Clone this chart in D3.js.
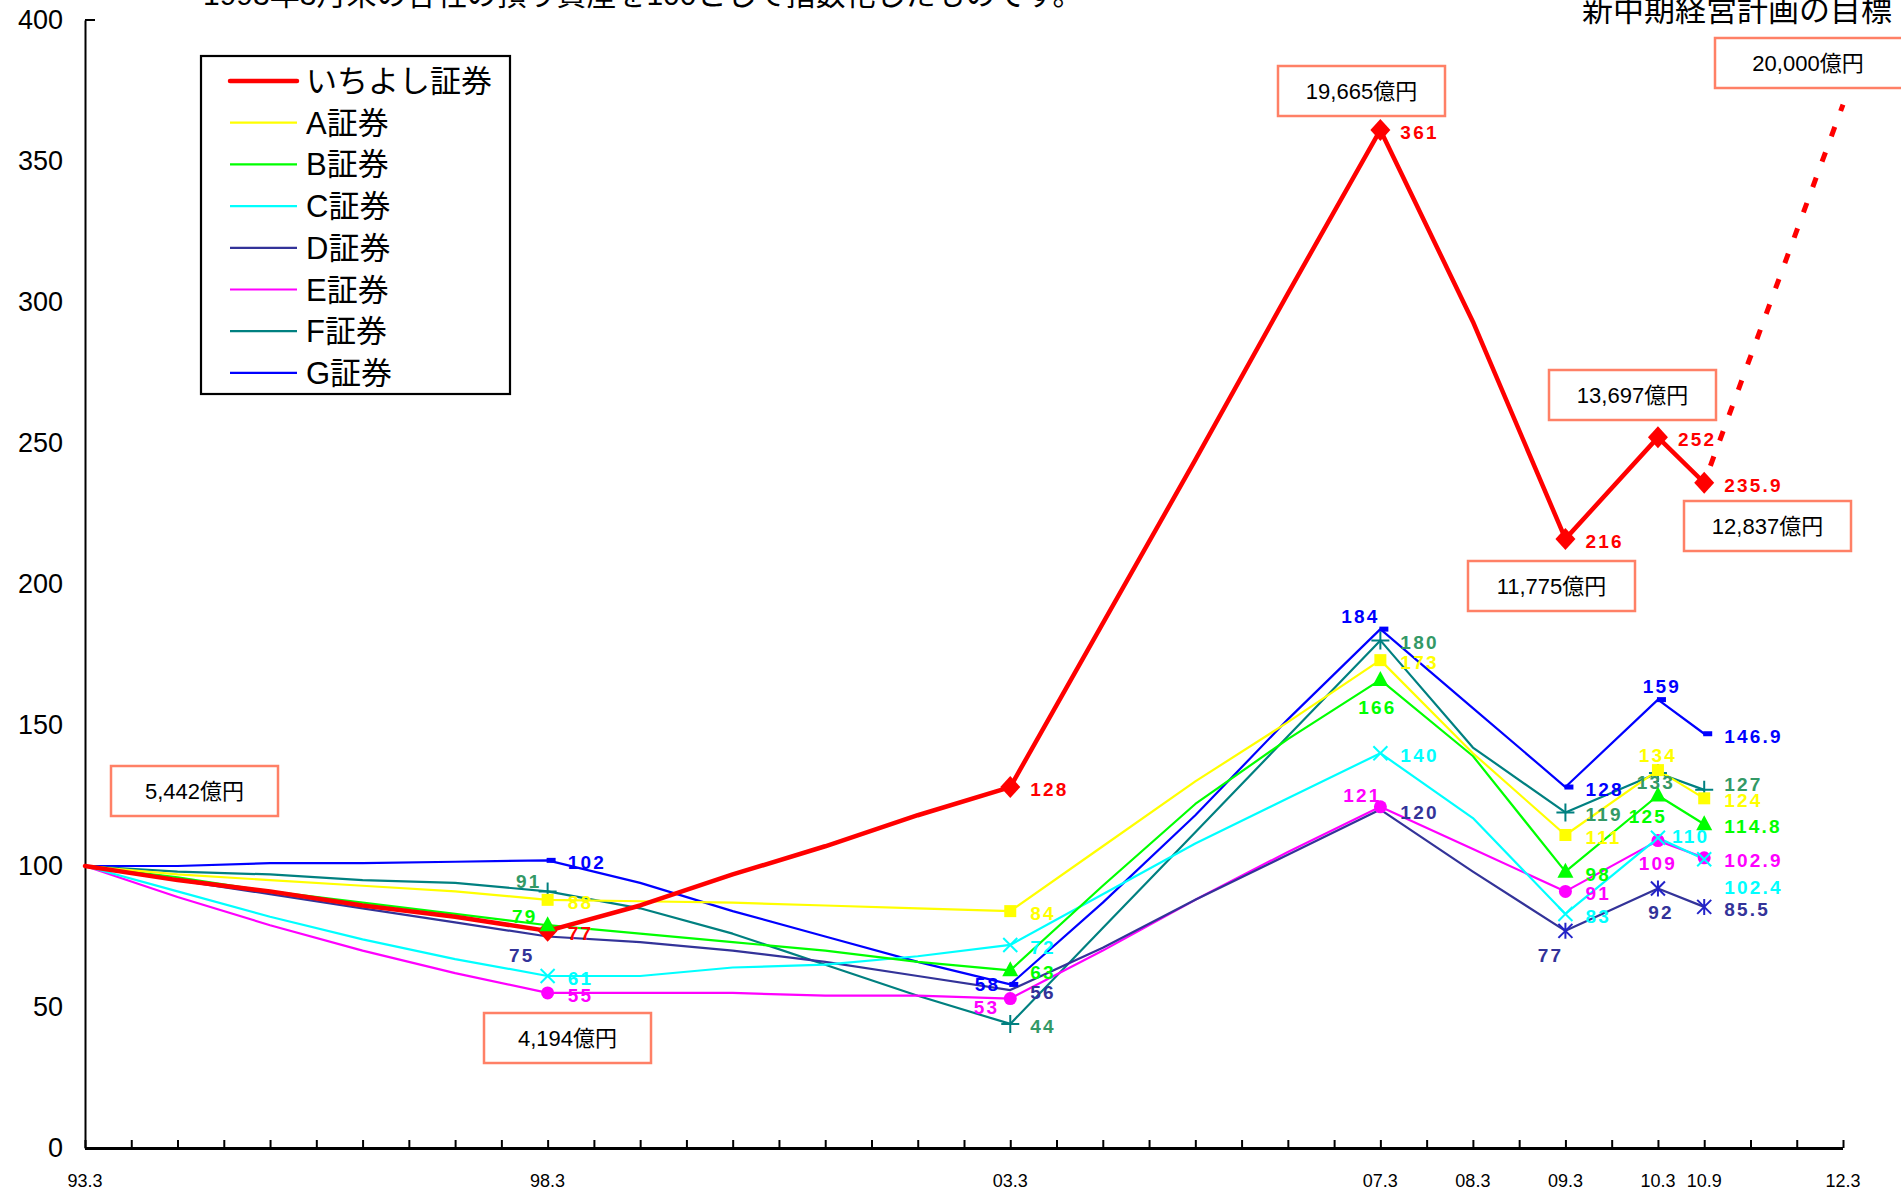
<!DOCTYPE html>
<html><head><meta charset="utf-8">
<script src="https://cdn.jsdelivr.net/npm/d3@7"></script>
<style>
html,body{margin:0;padding:0;background:#fff;}
svg{display:block;}
</style></head>
<body>
<svg id="chart" width="1901" height="1191"></svg>
<script>
// ---------- data ----------
const periods = ["93.3","94.3","95.3","96.3","97.3","98.3","99.3","00.3","01.3","02.3","03.3","04.3","05.3","06.3","07.3","08.3","09.3","10.3","10.9"];
const markerPeriods = ["98.3","03.3","07.3","09.3","10.3","10.9"];
const axisLabels = ["93.3","98.3","03.3","07.3","08.3","09.3","10.3","10.9","12.3"];
const yTicks = [0,50,100,150,200,250,300,350,400];
const seriesNames = ["いちよし証券","A証券","B証券","C証券","D証券","E証券","F証券","G証券"];

const ichiyoshi = [100,95,91,86,82,77, 86,97,107,118,128, 186,244,303,361, 293,216,252,235.9];
const seriesA   = [100,97,95,93,91,88, 87.5,87,86,85,84, 107,130,151,173, 140,111,134,124];
const seriesB   = [100,96,91,87,83,79, 76,73,70,66,63, 93,122,145,166, 139,98,125,114.8];
const seriesC   = [100,91,82,74,67,61, 61,64,65,68,72, 90,108,124,140, 117,83,110,102.4];
const seriesD   = [100,95,90,85,80,75, 73,70,66,61,56, 71,88,104,120, 98,77,92,85.5];
const seriesE   = [100,89,79,70,62,55, 55,55,54,54,53, 70,88,105,121, 106,91,109,102.9];
const seriesF   = [100,98,97,95,94,91, 85,76,65,54,44, 78,112,146,180, 142,119,133,127];
const seriesG   = [100,100,101,101,101.5,102, 94,84,75,66,58, 87,118,152,184, 156,128,159,146.9];

const targetPeriods = ["10.9","12.3"];
const targetValues  = [235.9, 370];

const noteTexts   = ["5,442億円","4,194億円","19,665億円","11,775億円","13,697億円","12,837億円","20,000億円"];

const noteTop = "1993年3月末の各社の預り資産を100として指数化したものです。";
const noteGoal = "新中期経営計画の目標";

// ---------- styles / layout ----------
const styles = [
  {line:"#ff0000", label:"#ff0000", width:4.5, marker:"diamond", mcol:"#ff0000"},
  {line:"#ffff00", label:"#ffff00", width:2.2, marker:"square", mcol:"#ffff00"},
  {line:"#00ff00", label:"#00ff00", width:2.2, marker:"triangle", mcol:"#00ff00"},
  {line:"#00ffff", label:"#00ffff", width:2.2, marker:"x", mcol:"#00ffff"},
  {line:"#333399", label:"#333399", width:2.2, marker:"star", mcol:"#2323c8"},
  {line:"#ff00ff", label:"#ff00ff", width:2.2, marker:"circle", mcol:"#ff00ff"},
  {line:"#008080", label:"#339966", width:2.2, marker:"plus", mcol:"#008080"},
  {line:"#0000ff", label:"#0000ff", width:2.2, marker:"dash", mcol:"#0000ff"}
];
const allSeries = [ichiyoshi, seriesA, seriesB, seriesC, seriesD, seriesE, seriesF, seriesG];
const hiddenMarkers = new Set(["4|98.3","4|03.3","4|07.3"]);

// label placement overrides: key "seriesIndex|period" -> [anchor, dx, centerDy]
const labelLayout = {
  "2|98.3":["end",-10,-9], "2|07.3":["middle",-3,27], "2|10.3":["middle",-10,20],
  "1|10.3":["middle",0,-15],
  "3|10.3":["start",14,-2], "3|10.9":["start",20,28],
  "4|98.3":["end",-13,18], "4|09.3":["middle",-15,24], "4|10.3":["middle",3,23],
  "5|03.3":["end",-11,8], "5|07.3":["middle",-18,-12], "5|10.3":["middle",0,22],
  "6|98.3":["end",-6,-10], "6|10.3":["middle",-2,9], "6|10.9":["start",20,-6],
  "7|03.3":["end",-10,0], "7|07.3":["middle",-20,-13], "7|10.3":["middle",4,-14]
};
const noteBoxes = [[111,766],[484,1013],[1278,66],[1468,561],[1549,370],[1684,501],[1715,38]];

// ---------- helpers ----------
function halfYearIndex(p){
  const [yy,mm] = p.split(".").map(Number);
  const year = yy < 50 ? 2000+yy : 1900+yy;
  return (year-1993)*2 + (mm-3)/6;
}

const svg = d3.select("#chart");
svg.append("rect").attr("width",1901).attr("height",1191).attr("fill","#fff");

const x = d3.scaleLinear().domain([0,38]).range([85,1843]);
const y = d3.scaleLinear().domain([0,400]).range([1148,20]);

const FONT = "'Liberation Sans', Arial, 'Noto Sans CJK JP', sans-serif";

// ---------- axes ----------
const yAxis = d3.axisLeft(y).tickValues(yTicks).tickSize(0).tickPadding(22);
const gy = svg.append("g").attr("transform","translate(85,0)").call(yAxis);
gy.select(".domain").attr("stroke","#000").attr("stroke-width",2);
gy.selectAll("text").attr("font-family",FONT).attr("font-size",27).attr("fill","#000");
svg.append("line").attr("x1",85).attr("x2",95).attr("y1",y(400)).attr("y2",y(400)).attr("stroke","#000").attr("stroke-width",2);

const xAxis = d3.axisTop(x).tickValues(d3.range(0,39)).tickSize(8).tickFormat("");
const gx = svg.append("g").attr("transform",`translate(0,${y(0)})`).call(xAxis);
gx.select(".domain").attr("stroke","none");
gx.selectAll(".tick line").attr("stroke","#000").attr("stroke-width",2);
svg.append("line").attr("x1",x(0)).attr("x2",x(38)).attr("y1",y(0)+0.5).attr("y2",y(0)+0.5).attr("stroke","#000").attr("stroke-width",3);

svg.append("g").selectAll("text").data(axisLabels).join("text")
  .attr("x",d=>x(halfYearIndex(d))).attr("y",y(0)+39)
  .attr("text-anchor","middle").attr("font-family",FONT).attr("font-size",18).attr("fill","#000")
  .text(d=>d);

// ---------- top notes ----------
svg.append("text").attr("x",203).attr("y",5).attr("font-family",FONT).attr("font-size",30).attr("fill","#000").text(noteTop);
svg.append("text").attr("x",1582).attr("y",21).attr("font-family",FONT).attr("font-size",31).attr("fill","#000").text(noteGoal);

// ---------- lines ----------
const line = d3.line().x(d=>x(halfYearIndex(d.p))).y(d=>y(d.v));
const linesG = svg.append("g");
[7,6,5,4,3,2,1,0].forEach(i=>{
  const pts = periods.map((p,k)=>({p, v:allSeries[i][k]}));
  linesG.append("path").attr("d",line(pts)).attr("fill","none")
    .attr("stroke",styles[i].line).attr("stroke-width",styles[i].width)
    .attr("stroke-linejoin","round").attr("stroke-linecap","round");
});
const tpts = targetPeriods.map((p,k)=>({p, v:targetValues[k]}));
linesG.append("path").attr("d",line(tpts)).attr("fill","none")
  .attr("stroke","#ff0000").attr("stroke-width",5).attr("stroke-dasharray","10,17").attr("stroke-dashoffset",-18);

// ---------- markers ----------
function drawMarker(g, type, cx, cy, col){
  switch(type){
    case "diamond": g.append("path").attr("d",`M${cx},${cy-11}L${cx+10},${cy}L${cx},${cy+11}L${cx-10},${cy}Z`).attr("fill",col); break;
    case "square": g.append("rect").attr("x",cx-6).attr("y",cy-6).attr("width",12).attr("height",12).attr("fill",col); break;
    case "triangle": g.append("path").attr("d",`M${cx},${cy-9}L${cx+8},${cy+6}L${cx-8},${cy+6}Z`).attr("fill",col); break;
    case "x": g.append("path").attr("d",`M${cx-7},${cy-7}L${cx+7},${cy+7}M${cx-7},${cy+7}L${cx+7},${cy-7}`).attr("stroke",col).attr("stroke-width",2); break;
    case "star": g.append("path").attr("d",`M${cx-7},${cy-7}L${cx+7},${cy+7}M${cx-7},${cy+7}L${cx+7},${cy-7}M${cx},${cy-8}L${cx},${cy+8}`).attr("stroke",col).attr("stroke-width",2); break;
    case "circle": g.append("circle").attr("cx",cx).attr("cy",cy).attr("r",6.5).attr("fill",col); break;
    case "plus": g.append("path").attr("d",`M${cx-9},${cy}L${cx+9},${cy}M${cx},${cy-9}L${cx},${cy+9}`).attr("stroke",col).attr("stroke-width",2); break;
    case "dash": g.append("rect").attr("x",cx-1).attr("y",cy-2.5).attr("width",9).attr("height",5).attr("fill",col); break;
  }
}
const markG = svg.append("g");
[0,7,6,5,4,3,2,1].forEach(i=>{
  markerPeriods.forEach(p=>{
    if (hiddenMarkers.has(i+"|"+p)) return;
    const k = periods.indexOf(p);
    drawMarker(markG, styles[i].marker, x(halfYearIndex(p)), y(allSeries[i][k]), styles[i].mcol);
  });
});

// ---------- value labels ----------
const labG = svg.append("g");
allSeries.forEach((s,i)=>{
  markerPeriods.forEach(p=>{
    const k = periods.indexOf(p);
    const lay = labelLayout[i+"|"+p] || ["start",20,2];
    labG.append("text")
      .attr("x",x(halfYearIndex(p))+lay[1])
      .attr("y",y(s[k])+lay[2]+7)
      .attr("text-anchor",lay[0])
      .attr("font-family",FONT).attr("font-weight","bold").attr("font-size",19)
      .attr("letter-spacing",2.2)
      .attr("fill",styles[i].label)
      .text(String(s[k]));
  });
});

// ---------- note boxes ----------
const boxG = svg.append("g");
noteTexts.forEach((t,i)=>{
  const [bx,by] = noteBoxes[i];
  const w = i===6 ? 200 : 167;
  boxG.append("rect").attr("x",bx).attr("y",by).attr("width",w).attr("height",50)
    .attr("fill","#fff").attr("stroke","#ff8066").attr("stroke-width",2.5);
  boxG.append("text").attr("x", i===6 ? 1808 : bx+w/2).attr("y",by+33)
    .attr("text-anchor","middle").attr("font-family",FONT).attr("font-size",22).attr("fill","#000").text(t);
});

// ---------- legend ----------
const leg = svg.append("g");
leg.append("rect").attr("x",201).attr("y",56).attr("width",309).attr("height",338)
  .attr("fill","#fff").attr("stroke","#000").attr("stroke-width",2.2);
seriesNames.forEach((n,i)=>{
  const cy = 81 + i*41.7;
  leg.append("line").attr("x1",230).attr("x2",297).attr("y1",cy).attr("y2",cy)
    .attr("stroke",styles[i].line).attr("stroke-width", i===0 ? 4.5 : 2.2).attr("stroke-linecap", i===0?"round":"butt");
  leg.append("text").attr("x",306).attr("y",cy+11).attr("font-family",FONT).attr("font-size",31).attr("fill","#000").text(n);
});
</script>
</body></html>
